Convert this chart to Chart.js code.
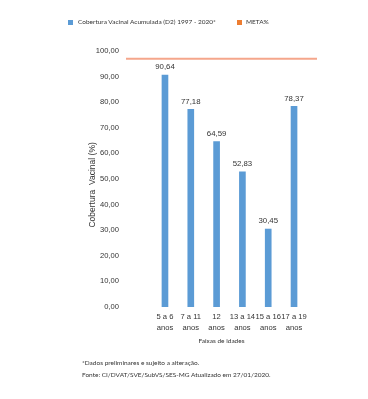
<!DOCTYPE html>
<html>
<head>
<meta charset="utf-8">
<script src="https://cdn.jsdelivr.net/npm/chart.js@4.4.1/dist/chart.umd.min.js"></script>
<style>
  html, body { margin: 0; padding: 0; background: #fff; }
  #wrap { position: relative; width: 368px; height: 399px; overflow: hidden; }
  #c { position: absolute; left: 0; top: 0; }
  .txt { position: absolute; font-family: Lato, "Open Sans", sans-serif; font-size: 6.5px; color: #333; white-space: nowrap; line-height: 8px; }
  .sq { position: absolute; width: 5px; height: 5px; }
</style>
</head>
<body>
<div id="wrap">
  <canvas id="c" width="368" height="399"></canvas>
  <div class="sq" style="left:68px;top:20px;background:#5b9bd5"></div>
  <div class="txt" style="left:78px;top:18px">Cobertura Vacinal Acumulada (D2) 1997 - 2020*</div>
  <div class="sq" style="left:237px;top:20px;background:#ed7d31"></div>
  <div class="txt" style="left:246px;top:18px">META%</div>
  <div class="txt" style="left:82px;top:359px">*Dados preliminares e sujeito a alteração.</div>
  <div class="txt" style="left:82px;top:371px">Fonte: CI/DVAT/SVE/SubVS/SES-MG Atualizado em 27/01/2020.</div>
</div>
<script>
const categories = [["5 a 6", "anos"], ["7 a 11", "anos"], ["12", "anos"], ["13 a 14", "anos"], ["15 a 16", "anos"], ["17 a 19", "anos"]];
const coverage = [90.64, 77.18, 64.59, 52.83, 30.45, 78.37];
const meta = 97;
const yTicks = [0, 10, 20, 30, 40, 50, 60, 70, 80, 90, 100];

const X_MIN = -1.51, X_MAX = 5.89;
const fmt = v => Number(v).toFixed(2).replace('.', ',');

const valueLabels = {
  id: 'valueLabels',
  afterDatasetsDraw(chart) {
    const m = chart.getDatasetMeta(0);
    const ctx = chart.ctx;
    ctx.save();
    ctx.font = '7.8px "Liberation Sans", Arial, sans-serif';
    ctx.fillStyle = '#333';
    ctx.textAlign = 'center';
    ctx.textBaseline = 'middle';
    m.data.forEach((bar, i) => {
      ctx.fillText(fmt(coverage[i]), bar.x, bar.y - 8);
    });
    ctx.restore();
  }
};

new Chart(document.getElementById('c'), {
  data: {
    datasets: [
      {
        type: 'bar',
        label: 'Cobertura Vacinal Acumulada (D2) 1997 - 2020*',
        data: coverage.map((v, i) => ({ x: i, y: v })),
        backgroundColor: '#5b9bd5',
        barThickness: 6,
        order: 2
      },
      {
        type: 'line',
        label: 'META%',
        data: [{ x: X_MIN, y: meta }, { x: X_MAX, y: meta }],
        borderColor: '#f5a68b',
        borderWidth: 2,
        pointRadius: 0,
        order: 1
      }
    ]
  },
  options: {
    responsive: false,
    animation: false,
    layout: { padding: { left: 0, right: 51, top: 51, bottom: 0 } },
    plugins: { legend: { display: false }, tooltip: { enabled: false } },
    scales: {
      x: {
        type: 'linear',
        offset: false,
        min: X_MIN,
        max: X_MAX,
        grid: { display: false, drawTicks: false, offset: false },
        border: { display: false },
        afterBuildTicks(s) { s.ticks = categories.map((c, i) => ({ value: i })); },
        afterFit(s) { s.height = 92; s.paddingLeft = 0; s.paddingRight = 0; },
        ticks: {
          autoSkip: false,
          maxRotation: 0,
          padding: 4,
          color: '#333',
          font: { family: '"Liberation Sans", Arial, sans-serif', size: 7.6, lineHeight: 1.45 },
          callback: v => categories[v]
        },
        title: {
          display: true,
          text: 'Faixas de idades',
          color: '#333',
          font: { family: 'Lato, "Open Sans", sans-serif', size: 6.5, lineHeight: 1.2 },
          padding: { top: 0, bottom: 54 }
        }
      },
      y: {
        min: 0,
        max: 100,
        grid: { display: false, drawTicks: false },
        border: { display: false },
        afterBuildTicks(s) { s.ticks = yTicks.map(v => ({ value: v })); },
        afterFit(s) { s.width = 126; s.paddingTop = 0; s.paddingBottom = 0; },
        ticks: {
          padding: 7,
          color: '#333',
          font: { family: '"Liberation Sans", Arial, sans-serif', size: 7.6 },
          callback: v => fmt(v)
        },
        title: {
          display: true,
          text: 'Cobertura  Vacinal (%)' + '     ',
          color: '#333',
          font: { family: '"Liberation Sans", Arial, sans-serif', size: 8.5, lineHeight: 1.2 },
          padding: { top: 88, bottom: 0 }
        }
      }
    }
  },
  plugins: [valueLabels]
});
</script>
</body>
</html>
